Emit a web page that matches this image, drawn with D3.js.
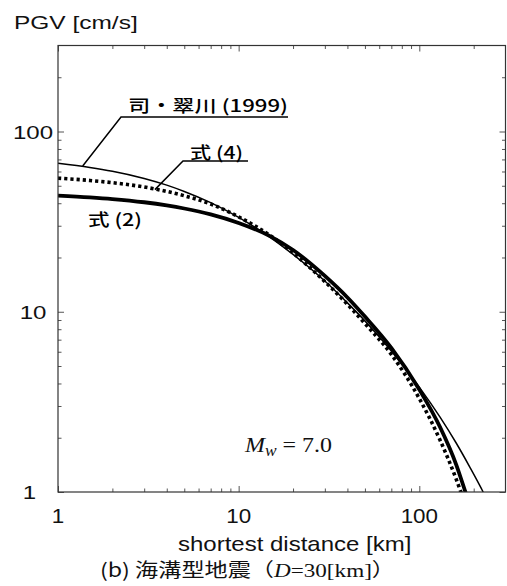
<!DOCTYPE html>
<html>
<head>
<meta charset="utf-8">
<script src="https://cdn.jsdelivr.net/npm/d3@7"></script>
<style>
  html, body { margin: 0; padding: 0; background: #fff; }
  svg { display: block; }
</style>
</head>
<body>
<svg id="chart" width="507" height="586"></svg>
<script>
// distances [km] and PGV [cm/s]
const distSM = [1, 1.5, 2, 3, 4, 5, 7, 10, 15, 20, 30, 40, 50, 70, 100, 130, 160, 190, 220, 240];
const pgvSM  = [66.6, 63.2, 60.2, 54.9, 50.4, 46.5, 40.3, 33.4, 25.8, 20.8, 14.8, 11.2, 8.9, 6.06, 3.82, 2.61, 1.87, 1.38, 1.05, 0.88];

const distEq2 = [1, 1.5, 2, 3, 4, 5, 7, 10, 15, 20, 30, 40, 50, 70, 100, 130, 160, 180, 190];
const pgvEq2  = [44.1, 43.1, 42.2, 40.5, 38.9, 37.4, 34.7, 31.1, 26.2, 22.0, 15.8, 12.0, 9.4, 6.3, 3.7, 2.3, 1.42, 1.0, 0.85];

const distEq4 = [1, 1.5, 2, 3, 4, 5, 7, 10, 15, 20, 30, 40, 50, 70, 100, 130, 160, 170, 185];
const pgvEq4  = [55.1, 53.5, 52.0, 49.2, 46.5, 44.0, 39.6, 33.6, 26.4, 21.2, 14.7, 11.0, 8.6, 5.8, 3.3, 1.95, 1.18, 1.0, 0.85];

const xMajor = [1, 10, 100];
const yMajor = [1, 10, 100];
const xDomain = [1, 300];
const yDomain = [1, 300];

const svg = d3.select("#chart");
const plot = { left: 58, right: 505.5, top: 45.5, bottom: 492 };

const x = d3.scaleLog().domain(xDomain).range([plot.left, plot.right]);
const y = d3.scaleLog().domain(yDomain).range([plot.bottom, plot.top]);

const SANS = "'Liberation Sans', Arial, sans-serif";
const SERIF = "'Liberation Serif', 'Times New Roman', serif";
const CJK = "'Noto Sans CJK JP', sans-serif";

// minor ticks 2..9 per decade
function minorTicks(dom) {
    const out = [];
    for (let e = 1; e <= 1000; e *= 10)
        for (let k = 2; k <= 9; k++) {
            const v = e * k;
            if (v > dom[0] && v < dom[1]) out.push(v);
        }
    return out;
}

const axisColor = "#555";
function drawAxis(gen, transform, values, size) {
    const g = svg.append("g").attr("transform", transform)
        .call(gen.tickValues(values).tickSize(-size).tickSizeOuter(0).tickFormat(""));
    g.select(".domain").remove();
    g.selectAll(".tick line").attr("stroke", axisColor).attr("stroke-width", 1);
}

const xMin = minorTicks(xDomain), yMin = minorTicks(yDomain);
drawAxis(d3.axisBottom(x), `translate(0,${plot.bottom})`, xMajor, 6);
drawAxis(d3.axisBottom(x), `translate(0,${plot.bottom})`, xMin, 3.5);
drawAxis(d3.axisTop(x), `translate(0,${plot.top})`, xMajor, 6);
drawAxis(d3.axisTop(x), `translate(0,${plot.top})`, xMin, 3.5);
drawAxis(d3.axisLeft(y), `translate(${plot.left},0)`, yMajor, 6);
drawAxis(d3.axisLeft(y), `translate(${plot.left},0)`, yMin, 3.5);
drawAxis(d3.axisRight(y), `translate(${plot.right},0)`, yMajor, 6);
drawAxis(d3.axisRight(y), `translate(${plot.right},0)`, yMin, 3.5);

// curves
svg.append("clipPath").attr("id", "clip")
  .append("rect")
    .attr("x", plot.left).attr("y", plot.top)
    .attr("width", plot.right - plot.left).attr("height", plot.bottom - plot.top);

const line = d3.line().curve(d3.curveMonotoneX).x(d => x(d[0])).y(d => y(d[1]));
const curves = [
    { xs: distSM,  ys: pgvSM,  width: 1.5, dash: null },
    { xs: distEq4, ys: pgvEq4, width: 3.6, dash: "3.2,3" },
    { xs: distEq2, ys: pgvEq2, width: 3.8, dash: null }
];
const cg = svg.append("g").attr("clip-path", "url(#clip)");
curves.forEach(c => {
    cg.append("path")
        .attr("d", line(c.xs.map((v, i) => [v, c.ys[i]])))
        .attr("fill", "none")
        .attr("stroke", "#000")
        .attr("stroke-width", c.width)
        .attr("stroke-dasharray", c.dash);
});

// frame
svg.append("rect")
    .attr("x", plot.left).attr("y", plot.top)
    .attr("width", plot.right - plot.left).attr("height", plot.bottom - plot.top)
    .attr("fill", "none").attr("stroke", "#333").attr("stroke-width", 1.2);

// stretched text helper
function stext(tx, ty, str, size, sx, anchor, font) {
    return svg.append("text")
        .attr("transform", `translate(${tx},${ty}) scale(${sx},1)`)
        .attr("text-anchor", anchor || "middle")
        .style("font-family", font || SANS)
        .style("font-size", size + "px")
        .attr("fill", "#111")
        .text(str);
}

yMajor.forEach(v => stext(v === 1 ? 29.5 : 33, y(v) + 7, String(v), 18.5, 1.3));
xMajor.forEach(v => stext(x(v), 523, String(v), 20, 1.12));

stext(14, 28.5, "PGV [cm/s]", 18, 1.36, "start");
stext(178, 551, "shortest distance [km]", 20, 1.2, "start");

// Mw label
const mw = svg.append("text")
    .attr("x", 245).attr("y", 452)
    .attr("textLength", 87).attr("lengthAdjust", "spacingAndGlyphs")
    .style("font-family", SERIF).style("font-size", "22px").attr("fill", "#111");
mw.append("tspan").style("font-style", "italic").text("M");
mw.append("tspan").style("font-style", "italic").style("font-size", "16px").attr("dy", 4).text("w");
mw.append("tspan").attr("dy", -4).text(" = 7.0");

// caption
const cap = svg.append("text")
    .attr("x", 100).attr("y", 577)
    .attr("textLength", 295).attr("lengthAdjust", "spacingAndGlyphs")
    .style("font-size", "19px").attr("fill", "#111");
cap.append("tspan").style("font-family", CJK).text("(b) 海溝型地震（");
cap.append("tspan").style("font-family", SERIF).style("font-style", "italic").text("D");
cap.append("tspan").style("font-family", SERIF).text("=30[km]");
cap.append("tspan").style("font-family", CJK).text("）");

// curve labels with leaders
const labels = [
    { text: "司・翠川 (1999)", tx: 128, ty: 112, len: 160, ux0: 121, ux1: 288, uy: 117, at: [1.37, 64.4] },
    { text: "式 (4)", tx: 190, ty: 159, len: 53, ux0: 183, ux1: 248, uy: 161, at: [3.44, 47.6] },
    { text: "式 (2)", tx: 88, ty: 226, len: 54 }
];
labels.forEach(l => {
    svg.append("text")
        .attr("x", l.tx).attr("y", l.ty)
        .attr("textLength", l.len).attr("lengthAdjust", "spacingAndGlyphs")
        .style("font-family", CJK).style("font-weight", 500).style("font-size", "17px")
        .attr("fill", "#000")
        .text(l.text);
    if (l.at) {
        svg.append("path")
            .attr("d", `M${l.ux1},${l.uy}H${l.ux0}L${x(l.at[0])},${y(l.at[1])}`)
            .attr("fill", "none").attr("stroke", "#000").attr("stroke-width", 1.5);
    }
});
</script>
</body>
</html>
